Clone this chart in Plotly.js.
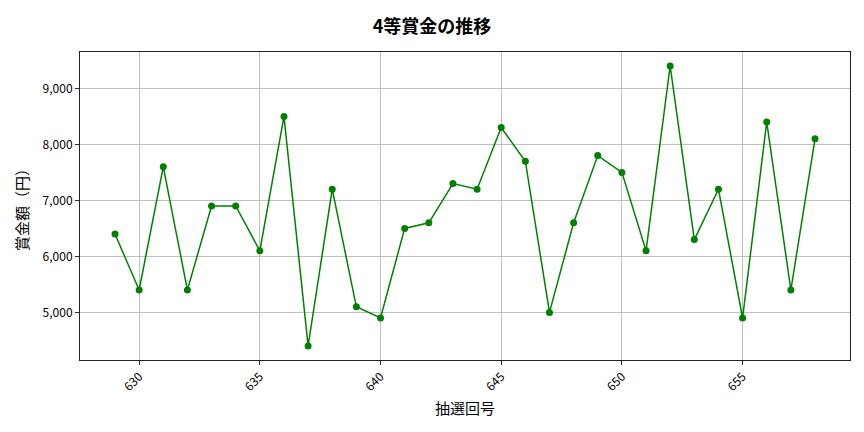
<!DOCTYPE html>
<html>
<head>
<meta charset="utf-8">
<script src="https://cdn.plot.ly/plotly-3.0.1.min.js"></script>
<style>
  body { margin: 0; background: #fff; }
  #chart { width: 864px; height: 432px; }
</style>
</head>
<body>
<div id="chart"></div>
<script>
const drawNumbers = [629, 630, 631, 632, 633, 634, 635, 636, 637, 638, 639, 640, 641, 642, 643,
    644, 645, 646, 647, 648, 649, 650, 651, 652, 653, 654, 655, 656, 657, 658];
const prizeAmounts = [6400, 5400, 7600, 5400, 6900, 6900, 6100, 8500, 4400, 7200, 5100, 4900, 6500, 6600, 7300,
    7200, 8300, 7700, 5000, 6600, 7800, 7500, 6100, 9400, 6300, 7200, 4900, 8400, 5400, 8100];
const xTicks = [630, 635, 640, 645, 650, 655];
const yTicks = [5000, 6000, 7000, 8000, 9000];

const font = 'Noto Sans CJK JP, sans-serif';

const data = [{
    type: 'scatter',
    mode: 'lines+markers',
    x: drawNumbers,
    y: prizeAmounts,
    line: { color: 'green', width: 1.5 },
    marker: { color: 'green', size: 7 },
    showlegend: false
}];

const layout = {
    width: 864,
    height: 432,
    paper_bgcolor: '#fff',
    plot_bgcolor: '#fff',
    font: { family: font, color: '#000', size: 12 },
    margin: { l: 80, r: 14, t: 52, b: 72 },
    title: {
        text: '<b>4等賞金の推移</b>',
        font: { family: font, size: 18, color: '#000' },
        x: 0.5,
        xanchor: 'center',
        y: 0.953,
        yanchor: 'top'
    },
    xaxis: {
        range: [627.55, 659.45],
        tickvals: xTicks,
        ticktext: xTicks.map(String),
        tickangle: -45,
        ticks: 'outside',
        ticklen: 4,
        tickcolor: '#222',
        showgrid: true,
        gridcolor: '#b0b0b0',
        gridwidth: 0.8,
        zeroline: false,
        showline: true,
        linecolor: '#222',
        linewidth: 1,
        mirror: true,
        title: { text: '抽選回号', font: { family: font, size: 15, color: '#000' }, standoff: 10 }
    },
    yaxis: {
        range: [4150, 9650],
        tickvals: yTicks,
        ticktext: yTicks.map(v => v.toLocaleString('en-US')),
        ticks: 'outside',
        ticklen: 4,
        tickcolor: '#222',
        showgrid: true,
        gridcolor: '#b0b0b0',
        gridwidth: 0.8,
        zeroline: false,
        showline: true,
        linecolor: '#222',
        linewidth: 1,
        mirror: true,
        title: { text: '賞金額（円）', font: { family: font, size: 15, color: '#000' }, standoff: 10 }
    }
};

Plotly.newPlot('chart', data, layout, { displayModeBar: false, staticPlot: true });
</script>
</body>
</html>
